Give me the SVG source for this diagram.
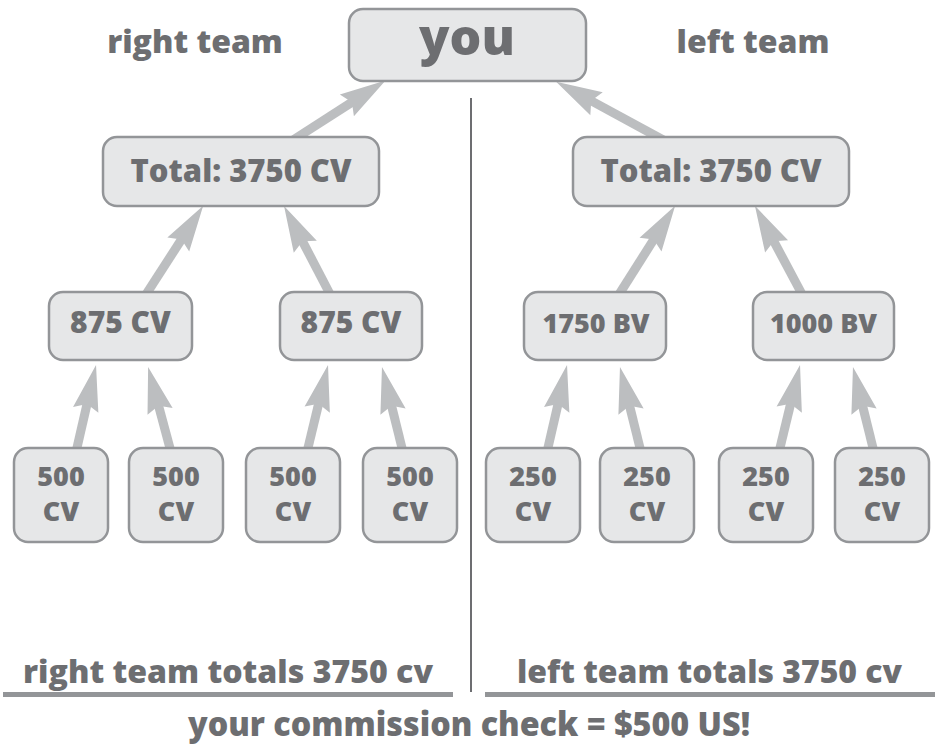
<svg xmlns="http://www.w3.org/2000/svg" width="935" height="745" viewBox="0 0 935 745">
<defs>
<style>
.box{fill:#e6e7e8;stroke:#939598;stroke-width:2.5}
.t{font-family:"Open Sans","Liberation Sans",sans-serif;font-weight:800;fill:#6d6e71;text-anchor:middle}
.arr{stroke:#bcbec0;stroke-width:9;fill:none;marker-end:url(#ah)}
</style>
<marker id="ah" markerUnits="userSpaceOnUse" viewBox="-10 -15 50 30" refX="0" refY="0" markerWidth="50" markerHeight="30" orient="auto">
<path d="M38,0 L-8,-13 L-2,0 L-8,13 Z" fill="#bcbec0"/>
</marker>
</defs>
<rect width="935" height="745" fill="#ffffff"/>
<text class="t" x="195" y="53" font-size="32">right team</text>
<text class="t" x="753" y="53" font-size="32">left team</text>
<line x1="471" y1="98" x2="471" y2="692" stroke="#6d6e71" stroke-width="2"/>
<g id="connectors">
<line class="arr" x1="290" y1="142" x2="353.6" y2="101.1"/>
<line class="arr" x1="667" y1="142" x2="589.5" y2="99.9"/>
<line class="arr" x1="145" y1="296" x2="182.6" y2="237.7"/>
<line class="arr" x1="331" y1="296" x2="301.6" y2="239.6"/>
<line class="arr" x1="618" y1="296" x2="654.8" y2="237.9"/>
<line class="arr" x1="803" y1="296" x2="772.8" y2="239.4"/>
<line class="arr" x1="76" y1="452" x2="87.5" y2="402.1"/>
<line class="arr" x1="171" y1="452" x2="158" y2="403.7"/>
<line class="arr" x1="307" y1="452" x2="319.1" y2="401.9"/>
<line class="arr" x1="403" y1="452" x2="391.1" y2="403.9"/>
<line class="arr" x1="547" y1="452" x2="558.5" y2="402.1"/>
<line class="arr" x1="641" y1="452" x2="629.1" y2="403.9"/>
<line class="arr" x1="779" y1="452" x2="791.1" y2="401.9"/>
<line class="arr" x1="874" y1="452" x2="862.1" y2="403.9"/>
</g>
<g id="you"><rect class="box" x="349" y="9" width="237" height="72" rx="14"/><text class="t" x="467" y="55" font-size="50">you</text></g>
<g id="total-right-team"><rect class="box" x="103" y="137" width="276" height="69" rx="14"/><text class="t" x="241" y="182" font-size="31">Total: 3750 CV</text></g>
<g id="total-left-team"><rect class="box" x="573" y="137" width="276" height="69" rx="14"/><text class="t" x="711" y="182" font-size="31">Total: 3750 CV</text></g>
<g id="r1"><rect class="box" x="49" y="292" width="143" height="68" rx="14"/><text class="t" x="120.5" y="333" font-size="30">875 CV</text></g>
<g id="r2"><rect class="box" x="280" y="292" width="142" height="68" rx="14"/><text class="t" x="351" y="333" font-size="30">875 CV</text></g>
<g id="l1"><rect class="box" x="524" y="292" width="142" height="68" rx="14"/><text class="t" x="596" y="333" font-size="27">1750 BV</text></g>
<g id="l2"><rect class="box" x="753" y="292" width="141" height="68" rx="14"/><text class="t" x="823.5" y="333" font-size="27">1000 BV</text></g>
<g id="r1a"><rect class="box" x="14" y="448" width="94" height="94" rx="14"/><text class="t" x="61" y="486" font-size="27">500</text><text class="t" x="61" y="521" font-size="27">CV</text></g>
<g id="r1b"><rect class="box" x="129" y="448" width="94" height="94" rx="14"/><text class="t" x="176" y="486" font-size="27">500</text><text class="t" x="176" y="521" font-size="27">CV</text></g>
<g id="r2a"><rect class="box" x="246" y="448" width="94" height="94" rx="14"/><text class="t" x="293" y="486" font-size="27">500</text><text class="t" x="293" y="521" font-size="27">CV</text></g>
<g id="r2b"><rect class="box" x="363" y="448" width="94" height="94" rx="14"/><text class="t" x="410" y="486" font-size="27">500</text><text class="t" x="410" y="521" font-size="27">CV</text></g>
<g id="l1a"><rect class="box" x="486" y="448" width="94" height="94" rx="14"/><text class="t" x="533" y="486" font-size="27">250</text><text class="t" x="533" y="521" font-size="27">CV</text></g>
<g id="l1b"><rect class="box" x="600" y="448" width="94" height="94" rx="14"/><text class="t" x="647" y="486" font-size="27">250</text><text class="t" x="647" y="521" font-size="27">CV</text></g>
<g id="l2a"><rect class="box" x="719" y="448" width="94" height="94" rx="14"/><text class="t" x="766" y="486" font-size="27">250</text><text class="t" x="766" y="521" font-size="27">CV</text></g>
<g id="l2b"><rect class="box" x="835" y="448" width="94" height="94" rx="14"/><text class="t" x="882" y="486" font-size="27">250</text><text class="t" x="882" y="521" font-size="27">CV</text></g>
<text class="t" x="228" y="683" font-size="32" textLength="410" lengthAdjust="spacingAndGlyphs">right team totals 3750 cv</text>
<text class="t" x="709.5" y="683" font-size="32" textLength="385" lengthAdjust="spacingAndGlyphs">left team totals 3750 cv</text>
<rect x="3" y="692" width="450" height="5" fill="#939598"/>
<rect x="485" y="692" width="450" height="5" fill="#939598"/>
<text class="t" x="469" y="736" font-size="33" textLength="562" lengthAdjust="spacingAndGlyphs">your commission check = $500 US!</text>
</svg>
